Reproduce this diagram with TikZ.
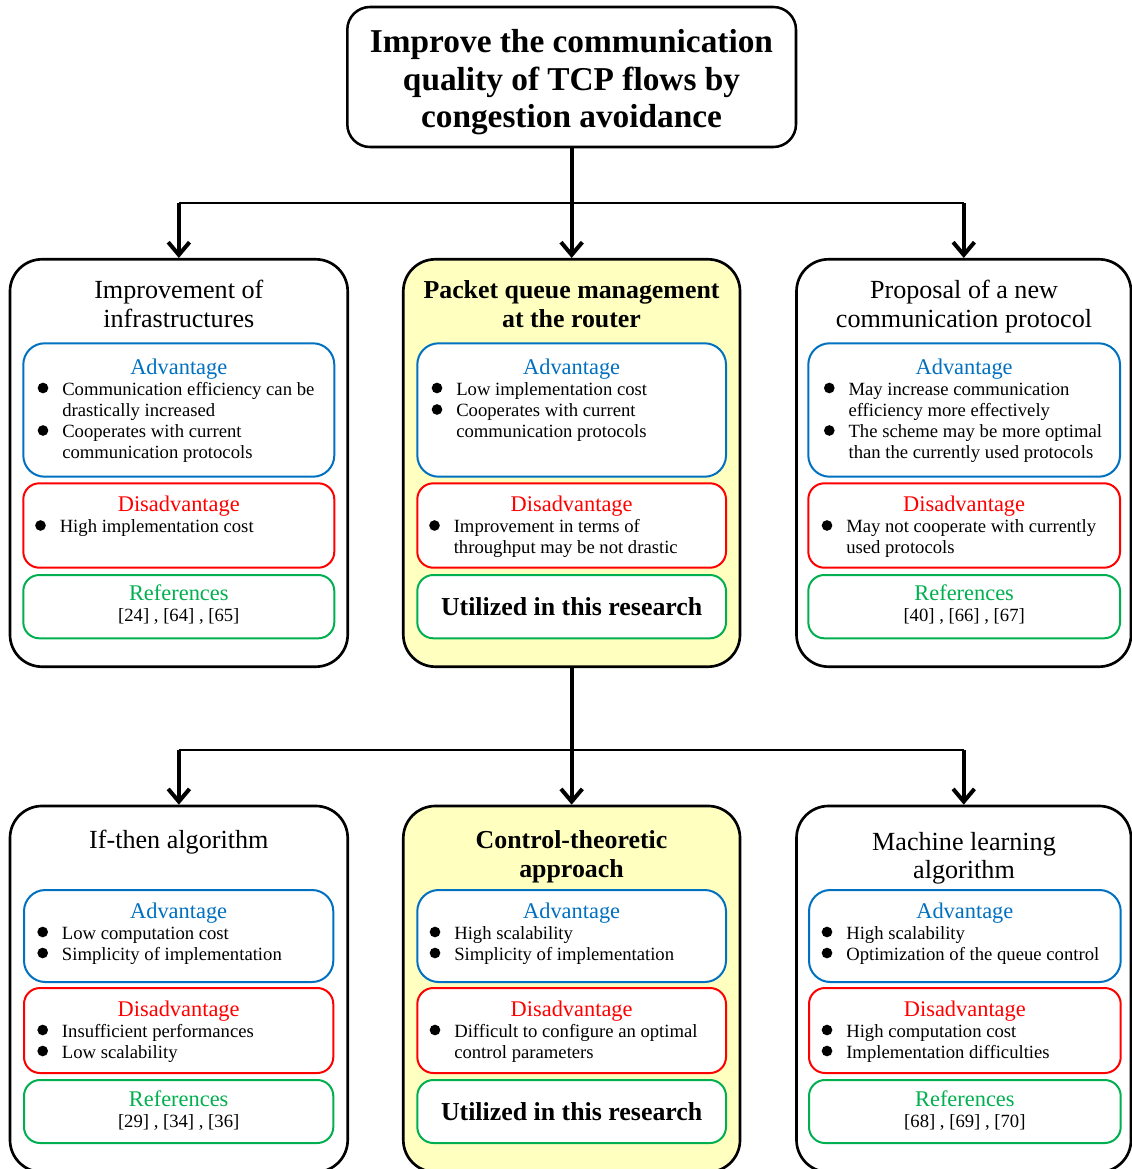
\documentclass[tikz,border=0pt]{standalone}
\usepackage{fontspec}
\setmainfont{Liberation Serif}
\usetikzlibrary{arrows.meta,fit}
\definecolor{advblue}{HTML}{0070C0}
\definecolor{disred}{HTML}{FF0000}
\definecolor{refgreen}{HTML}{00B050}
\definecolor{hilite}{HTML}{FFFFC0}

\tikzset{
  x=0.75pt, y=-0.75pt,
  panel/.style={draw=black, line width=2pt, rounded corners=24pt, inner sep=0pt},
  chosen/.style={panel, fill=hilite},
  goalbox/.style={draw=black, line width=1.9pt, rounded corners=17pt, inner sep=0pt},
  advbox/.style={draw=advblue, line width=1.5pt, rounded corners=16pt, fill=white, inner sep=0pt},
  disbox/.style={draw=disred, line width=1.5pt, rounded corners=12pt, fill=white, inner sep=0pt},
  refbox/.style={draw=refgreen, line width=1.5pt, rounded corners=12pt, fill=white, inner sep=0pt},
  goaltxt/.style={inner sep=0pt, anchor=base, font=\fontsize{25}{30}\selectfont\bfseries},
  titletxt/.style={inner sep=0pt, anchor=base, font=\fontsize{19.6}{23}\selectfont},
  titlebold/.style={inner sep=0pt, anchor=base, font=\fontsize{19.4}{23}\selectfont\bfseries},
  headtxt/.style={inner sep=0pt, anchor=base, font=\fontsize{16.8}{20}\selectfont},
  advhead/.style={headtxt, text=advblue},
  dishead/.style={headtxt, text=disred},
  refhead/.style={headtxt, text=refgreen},
  reftxt/.style={inner sep=0pt, anchor=base, font=\fontsize{14}{16}\selectfont},
  usedtxt/.style={inner sep=0pt, anchor=base, font=\fontsize{19.4}{23}\selectfont\bfseries},
  body/.style={inner sep=0pt, anchor=base west, font=\fontsize{14}{16}\selectfont},
  dot/.style={circle, fill=black, inner sep=0pt, minimum size=8pt},
  stem/.style={line width=3pt, -{Straight Barb[length=9.5pt,width=16pt]}},
  hbar/.style={line width=1.5pt},
}

% bullet item: name, text x, baseline y, text
\newcommand\pitem[4]{%
  \node[dot] (#1d) at (#2-19,#3-7) {};
  \node[body] (#1) at (#2,#3) {#4};}

\begin{document}
\begin{tikzpicture}
\useasboundingbox (0,0) rectangle (1131,1169);

% ---------- goal ----------
\node[goalbox, fit={(347.3,7) (796,147)}] (goal) {};
\node[goaltxt] (goal1) at (571.5,53) {Improve the communication};
\node[goaltxt] (goal2) at (571.5,90.5) {quality of TCP flows by};
\node[goaltxt] (goal3) at (571.5,128) {congestion avoidance};

% ---------- first level panels ----------
\node[panel,  fit={(10,259.3) (347.7,666.7)}] (P1) {};
\node[chosen, fit={(403.3,259.3) (740,666.7)}] (P2) {};
\node[panel,  fit={(796.5,259.3) (1131,666.7)}] (P3) {};

% ---------- second level panels ----------
\node[panel,  fit={(10,806) (347.7,1172)}] (Q1) {};
\node[chosen, fit={(403.3,806) (740,1172)}] (Q2) {};
\node[panel,  fit={(796.5,806) (1131,1172)}] (Q3) {};

% ---------- connectors ----------
\coordinate (j1) at (571.5,203);
\coordinate (j2) at (571.5,750);
\draw[hbar] (P1.north |- j1) -- (P3.north |- j1);
\draw[stem] (goal.south) -- (P2.north);
\draw[stem] (P1.north |- j1) -- (P1.north);
\draw[stem] (P3.north |- j1) -- (P3.north);
\draw[hbar] (Q1.north |- j2) -- (Q3.north |- j2);
\draw[stem] (P2.south) -- (Q2.north);
\draw[stem] (Q1.north |- j2) -- (Q1.north);
\draw[stem] (Q3.north |- j2) -- (Q3.north);

% ===== P1: Improvement of infrastructures =====
\node[titletxt] (P1t1) at (178.8,298) {Improvement of};
\node[titletxt] (P1t2) at (178.8,327) {infrastructures};
\node[advbox, fit={(23.3,343.3) (334.3,476.7)}] (P1a) {};
\node[advhead] (P1ah) at (P1a.center |- 0,374) {Advantage};
\pitem{P1a1}{62}{395}{Communication efficiency can be}
\node[body] (P1a2) at (62,416.5) {drastically increased};
\pitem{P1a3}{62}{437.5}{Cooperates with current}
\node[body] (P1a4) at (62,458.5) {communication protocols};
\node[disbox, fit={(23.3,483.3) (334.3,567.7)}] (P1d) {};
\node[dishead] (P1dh) at (P1d.center |- 0,511) {Disadvantage};
\pitem{P1d1}{59.5}{532.5}{High implementation cost}
\node[refbox, fit={(23.3,575) (334.3,638.3)}] (P1r) {};
\node[refhead] (P1rh) at (P1r.center |- 0,600.5) {References};
\node[reftxt] (P1r1) at (P1r.center |- 0,621) {[24] , [64] , [65]};

% ===== P2: Packet queue management =====
\node[titlebold] (P2t1) at (571.5,298) {Packet queue management};
\node[titlebold] (P2t2) at (571.5,327) {at the router};
\node[advbox, fit={(417.3,343.3) (726,476.7)}] (P2a) {};
\node[advhead] (P2ah) at (P2a.center |- 0,374) {Advantage};
\pitem{P2a1}{456}{395}{Low implementation cost}
\pitem{P2a2}{456}{416.5}{Cooperates with current}
\node[body] (P2a3) at (456,437.5) {communication protocols};
\node[disbox, fit={(417.3,483.3) (726,567.7)}] (P2d) {};
\node[dishead] (P2dh) at (P2d.center |- 0,511) {Disadvantage};
\pitem{P2d1}{453.5}{532.5}{Improvement in terms of}
\node[body] (P2d2) at (453.5,553.5) {throughput may be not drastic};
\node[refbox, fit={(417.3,575) (726,638.3)}] (P2r) {};
\node[usedtxt] (P2u) at (P2r.center |- 0,615) {Utilized in this research};

% ===== P3: Proposal of a new communication protocol =====
\node[titletxt] (P3t1) at (964,298) {Proposal of a new};
\node[titletxt] (P3t2) at (964,327) {communication protocol};
\node[advbox, fit={(808.3,343.3) (1120,476.7)}] (P3a) {};
\node[advhead] (P3ah) at (P3a.center |- 0,374) {Advantage};
\pitem{P3a1}{848.3}{395}{May increase communication}
\node[body] (P3a2) at (848.3,416.5) {efficiency more effectively};
\pitem{P3a3}{848.3}{437.5}{The scheme may be more optimal}
\node[body] (P3a4) at (848.3,458.5) {than the currently used protocols};
\node[disbox, fit={(808.3,483.3) (1120,567.7)}] (P3d) {};
\node[dishead] (P3dh) at (P3d.center |- 0,511) {Disadvantage};
\pitem{P3d1}{846}{532.5}{May not cooperate with currently}
\node[body] (P3d2) at (846,553.5) {used protocols};
\node[refbox, fit={(808.3,575) (1120,638.3)}] (P3r) {};
\node[refhead] (P3rh) at (P3r.center |- 0,600.5) {References};
\node[reftxt] (P3r1) at (P3r.center |- 0,621) {[40] , [66] , [67]};

% ===== Q1: If-then algorithm =====
\node[titletxt] (Q1t1) at (178.8,848) {If-then algorithm};
\node[advbox, fit={(24,890) (333.3,982)}] (Q1a) {};
\node[advhead] (Q1ah) at (Q1a.center |- 0,918) {Advantage};
\pitem{Q1a1}{61.7}{939}{Low computation cost}
\pitem{Q1a2}{61.7}{960}{Simplicity of implementation}
\node[disbox, fit={(24,988) (333.3,1073)}] (Q1d) {};
\node[dishead] (Q1dh) at (Q1d.center |- 0,1016) {Disadvantage};
\pitem{Q1d1}{61.7}{1037}{Insufficient performances}
\pitem{Q1d2}{61.7}{1058}{Low scalability}
\node[refbox, fit={(24,1080) (333.3,1143)}] (Q1r) {};
\node[refhead] (Q1rh) at (Q1r.center |- 0,1106) {References};
\node[reftxt] (Q1r1) at (Q1r.center |- 0,1127) {[29] , [34] , [36]};

% ===== Q2: Control-theoretic approach =====
\node[titlebold] (Q2t1) at (571.5,848) {Control-theoretic};
\node[titlebold] (Q2t2) at (571.5,877) {approach};
\node[advbox, fit={(417.3,890) (726,982)}] (Q2a) {};
\node[advhead] (Q2ah) at (Q2a.center |- 0,918) {Advantage};
\pitem{Q2a1}{454}{939}{High scalability}
\pitem{Q2a2}{454}{960}{Simplicity of implementation}
\node[disbox, fit={(417.3,988) (726,1073)}] (Q2d) {};
\node[dishead] (Q2dh) at (Q2d.center |- 0,1016) {Disadvantage};
\pitem{Q2d1}{454}{1037}{Difficult to configure an optimal}
\node[body] (Q2d2) at (454,1058) {control parameters};
\node[refbox, fit={(417.3,1080) (726,1143)}] (Q2r) {};
\node[usedtxt] (Q2u) at (Q2r.center |- 0,1120) {Utilized in this research};

% ===== Q3: Machine learning algorithm =====
\node[titletxt] (Q3t1) at (964,850) {Machine learning};
\node[titletxt] (Q3t2) at (964,878) {algorithm};
\node[advbox, fit={(809,890) (1120.7,982)}] (Q3a) {};
\node[advhead] (Q3ah) at (Q3a.center |- 0,918) {Advantage};
\pitem{Q3a1}{846}{939}{High scalability}
\pitem{Q3a2}{846}{960}{Optimization of the queue control}
\node[disbox, fit={(809,988) (1120.7,1073)}] (Q3d) {};
\node[dishead] (Q3dh) at (Q3d.center |- 0,1016) {Disadvantage};
\pitem{Q3d1}{846}{1037}{High computation cost}
\pitem{Q3d2}{846}{1058}{Implementation difficulties}
\node[refbox, fit={(809,1080) (1120.7,1143)}] (Q3r) {};
\node[refhead] (Q3rh) at (Q3r.center |- 0,1106) {References};
\node[reftxt] (Q3r1) at (Q3r.center |- 0,1127) {[68] , [69] , [70]};

\end{tikzpicture}
\end{document}
